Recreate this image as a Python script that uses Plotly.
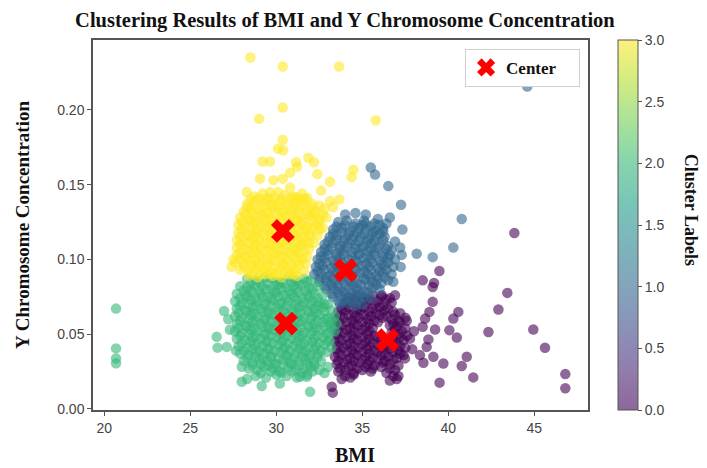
import plotly.graph_objects as go

# ---------------- data ----------------
# cluster 3 (yellow)
c3_bmi = [28.7, 29.2, 29.6, 30.1, 30.5, 31.0, 31.5,
          28.3, 28.8, 29.3, 29.8, 30.2, 30.7, 31.1, 31.6, 32.1,
          28.1, 28.5, 29.0, 29.5, 29.9, 30.4, 30.9, 31.3, 31.8, 32.3, 32.8,
          27.9, 28.4, 28.8, 29.3, 29.7, 30.2, 30.6, 31.1, 31.5, 32.0, 32.5, 32.9,
          27.8, 28.2, 28.7, 29.1, 29.6, 30.0, 30.5, 30.9, 31.4, 31.8, 32.3, 32.7,
          27.8, 28.3, 28.8, 29.2, 29.7, 30.1, 30.6, 31.0, 31.5, 31.9, 32.4,
          27.7, 28.1, 28.6, 29.0, 29.5, 29.9, 30.4, 30.8, 31.3, 31.7, 32.2,
          27.7, 28.2, 28.7, 29.1, 29.6, 30.0, 30.5, 31.0, 31.4, 31.9,
          27.7, 28.1, 28.6, 29.0, 29.5, 30.0, 30.4, 30.9, 31.3, 31.8,
          27.6, 28.1, 28.5, 29.0, 29.4, 29.9, 30.4, 30.8, 31.3, 31.7,
          27.9, 28.4, 28.8, 29.3, 29.8, 30.2, 30.7, 31.1, 31.6,
          28.4, 28.9, 29.4, 29.8, 30.3, 30.8, 31.2,
          28.49, 30.37, 33.65, 30.37, 29.0, 35.78, 30.37, 30.1, 30.4, 29.2, 29.63, 31.15,
          31.2, 31.86, 32.19, 30.8, 32.38, 34.48, 34.38, 29.05, 29.83, 30.37, 33.12, 30.8,
          28.28, 29.63, 31.19, 31.67, 33.12, 33.66, 27.5, 27.4, 32.6, 33.3]
c3_y = [0.142, 0.144, 0.141, 0.145, 0.143, 0.142, 0.144,
        0.137, 0.139, 0.138, 0.136, 0.139, 0.137, 0.138, 0.139, 0.137,
        0.132, 0.134, 0.133, 0.131, 0.134, 0.133, 0.132, 0.134, 0.133, 0.132, 0.134,
        0.128, 0.127, 0.129, 0.128, 0.126, 0.128, 0.129, 0.127, 0.128, 0.129, 0.127, 0.128,
        0.123, 0.122, 0.124, 0.123, 0.121, 0.124, 0.122, 0.123, 0.124, 0.122, 0.123, 0.121,
        0.118, 0.117, 0.119, 0.118, 0.116, 0.119, 0.117, 0.118, 0.119, 0.117, 0.116,
        0.113, 0.112, 0.114, 0.113, 0.111, 0.114, 0.112, 0.113, 0.114, 0.112, 0.111,
        0.108, 0.107, 0.109, 0.108, 0.106, 0.109, 0.107, 0.108, 0.109, 0.107,
        0.103, 0.102, 0.104, 0.103, 0.101, 0.104, 0.102, 0.103, 0.104, 0.102,
        0.098, 0.097, 0.099, 0.098, 0.096, 0.099, 0.097, 0.098, 0.099, 0.097,
        0.093, 0.092, 0.094, 0.093, 0.091, 0.094, 0.092, 0.093, 0.092,
        0.089, 0.088, 0.090, 0.089, 0.088, 0.090, 0.089,
        0.235, 0.229, 0.229, 0.2015, 0.194, 0.193, 0.180, 0.174, 0.173, 0.1655, 0.1655, 0.165,
        0.162, 0.168, 0.165, 0.158, 0.157, 0.160, 0.155, 0.154, 0.153, 0.154, 0.152, 0.148,
        0.145, 0.145, 0.1415, 0.1405, 0.139, 0.140, 0.100, 0.095, 0.146, 0.135]
# dense core of cluster 3
c3_core_bmi = [28.5, 29.0, 29.4, 29.9, 30.3, 30.8, 31.3, 31.8,
               28.3, 28.7, 29.2, 29.7, 30.1, 30.6, 31.0, 31.5, 32.0, 32.5,
               28.2, 28.6, 29.1, 29.5, 30.0, 30.4, 30.9, 31.3, 31.8, 32.2, 32.7,
               28.0, 28.5, 28.9, 29.4, 29.8, 30.3, 30.7, 31.2, 31.6, 32.1, 32.5,
               28.0, 28.5, 28.9, 29.4, 29.8, 30.3, 30.8, 31.2, 31.7, 32.1, 32.5,
               27.9, 28.4, 28.8, 29.3, 29.7, 30.2, 30.6, 31.1, 31.5, 32.0,
               27.9, 28.4, 28.8, 29.3, 29.7, 30.2, 30.6, 31.1, 31.5, 31.9,
               27.9, 28.4, 28.8, 29.3, 29.8, 30.2, 30.7, 31.1, 31.6,
               27.9, 28.3, 28.8, 29.2, 29.7, 30.2, 30.6, 31.1, 31.5,
               28.1, 28.6, 29.0, 29.5, 29.9, 30.4, 30.9, 31.3,
               28.6, 29.1, 29.6, 30.1, 30.5, 31.0]
c3_core_y = [0.140, 0.141, 0.140, 0.141, 0.140, 0.141, 0.140, 0.141,
             0.135, 0.136, 0.135, 0.136, 0.135, 0.136, 0.135, 0.136, 0.135, 0.136,
             0.130, 0.131, 0.130, 0.131, 0.130, 0.131, 0.130, 0.131, 0.130, 0.131, 0.130,
             0.125, 0.126, 0.125, 0.126, 0.125, 0.126, 0.125, 0.126, 0.125, 0.126, 0.125,
             0.120, 0.121, 0.120, 0.121, 0.120, 0.121, 0.120, 0.121, 0.120, 0.121, 0.120,
             0.115, 0.116, 0.115, 0.116, 0.115, 0.116, 0.115, 0.116, 0.115, 0.116,
             0.110, 0.111, 0.110, 0.111, 0.110, 0.111, 0.110, 0.111, 0.110, 0.111,
             0.105, 0.106, 0.105, 0.106, 0.105, 0.106, 0.105, 0.106, 0.105,
             0.100, 0.101, 0.100, 0.101, 0.100, 0.101, 0.100, 0.101, 0.100,
             0.095, 0.096, 0.095, 0.096, 0.095, 0.096, 0.095, 0.096,
             0.091, 0.090, 0.091, 0.090, 0.091, 0.090]

# cluster 2 (green)
c2_bmi = [28.3, 28.8, 29.3, 29.7, 30.2, 30.7, 31.1, 31.6, 32.0,
          27.9, 28.3, 28.8, 29.2, 29.7, 30.1, 30.6, 31.0, 31.5, 31.9, 32.4,
          27.7, 28.2, 28.6, 29.1, 29.5, 30.0, 30.4, 30.9, 31.3, 31.8, 32.2, 32.7,
          27.6, 28.0, 28.5, 28.9, 29.4, 29.8, 30.3, 30.7, 31.2, 31.6, 32.1, 32.5, 33.0,
          27.7, 28.2, 28.6, 29.1, 29.5, 30.0, 30.4, 30.9, 31.3, 31.8, 32.2, 32.7, 33.2,
          27.6, 28.0, 28.5, 28.9, 29.4, 29.8, 30.3, 30.7, 31.2, 31.6, 32.1, 32.5, 33.0, 33.4,
          27.7, 28.2, 28.6, 29.1, 29.5, 30.0, 30.4, 30.9, 31.3, 31.8, 32.2, 32.7, 33.1, 33.5,
          27.6, 28.0, 28.5, 28.9, 29.4, 29.8, 30.3, 30.7, 31.2, 31.6, 32.1, 32.5, 33.0, 33.4,
          27.7, 28.2, 28.6, 29.1, 29.5, 30.0, 30.4, 30.9, 31.3, 31.8, 32.2, 32.7, 33.1,
          27.8, 28.3, 28.7, 29.2, 29.6, 30.1, 30.5, 31.0, 31.4, 31.9, 32.3, 32.8, 33.2,
          27.9, 28.4, 28.8, 29.3, 29.7, 30.2, 30.6, 31.1, 31.5, 32.0, 32.4, 32.9,
          28.1, 28.6, 29.0, 29.5, 29.9, 30.4, 30.8, 31.3, 31.7, 32.2, 32.6,
          28.4, 28.9, 29.3, 29.8, 30.2, 30.7, 31.1, 31.6, 32.0, 32.5,
          28.8, 29.4, 30.0, 30.6, 31.2, 31.8,
          20.68, 20.68, 20.68, 20.68, 26.96, 26.53, 26.58, 27.12, 27.66, 27.99, 29.15,
          27.99, 31.96, 31.38, 31.77, 27.2, 27.3, 33.0, 32.8, 28.3, 30.2]
c2_y = [0.087, 0.086, 0.088, 0.087, 0.085, 0.088, 0.086, 0.087, 0.086,
        0.082, 0.081, 0.083, 0.082, 0.080, 0.083, 0.081, 0.082, 0.083, 0.081, 0.082,
        0.077, 0.076, 0.078, 0.077, 0.075, 0.078, 0.076, 0.077, 0.078, 0.076, 0.077, 0.076,
        0.072, 0.071, 0.073, 0.072, 0.070, 0.073, 0.071, 0.072, 0.073, 0.071, 0.072, 0.071, 0.070,
        0.067, 0.066, 0.068, 0.067, 0.065, 0.068, 0.066, 0.067, 0.068, 0.066, 0.067, 0.068, 0.066,
        0.062, 0.061, 0.063, 0.062, 0.060, 0.063, 0.061, 0.062, 0.063, 0.061, 0.062, 0.063, 0.061, 0.062,
        0.057, 0.056, 0.058, 0.057, 0.055, 0.058, 0.056, 0.057, 0.058, 0.056, 0.057, 0.058, 0.056, 0.057,
        0.052, 0.051, 0.053, 0.052, 0.050, 0.053, 0.051, 0.052, 0.053, 0.051, 0.052, 0.053, 0.051, 0.052,
        0.047, 0.046, 0.048, 0.047, 0.045, 0.048, 0.046, 0.047, 0.048, 0.046, 0.047, 0.048, 0.046,
        0.042, 0.041, 0.043, 0.042, 0.040, 0.043, 0.041, 0.042, 0.043, 0.041, 0.042, 0.043, 0.041,
        0.037, 0.036, 0.038, 0.037, 0.035, 0.038, 0.036, 0.037, 0.038, 0.036, 0.037, 0.038,
        0.032, 0.031, 0.033, 0.032, 0.030, 0.033, 0.031, 0.032, 0.033, 0.031, 0.032,
        0.027, 0.026, 0.028, 0.027, 0.025, 0.028, 0.026, 0.027, 0.028, 0.026,
        0.022, 0.021, 0.023, 0.022, 0.021, 0.023,
        0.0671, 0.0405, 0.0338, 0.0305, 0.0655, 0.0482, 0.041, 0.0415, 0.039, 0.0182, 0.0153,
        0.0282, 0.0115, 0.0215, 0.0215, 0.060, 0.053, 0.028, 0.024, 0.020, 0.017]
# dense core of cluster 2
c2_core_bmi = [28.5, 29.0, 29.5, 30.0, 30.4, 30.9, 31.3, 31.8,
               28.1, 28.5, 29.0, 29.4, 29.9, 30.3, 30.8, 31.2, 31.7, 32.1,
               27.9, 28.3, 28.8, 29.2, 29.7, 30.1, 30.6, 31.0, 31.5, 31.9, 32.4,
               27.9, 28.4, 28.8, 29.3, 29.7, 30.2, 30.6, 31.1, 31.5, 32.0, 32.4, 32.8,
               27.8, 28.3, 28.7, 29.2, 29.6, 30.1, 30.5, 31.0, 31.4, 31.9, 32.3, 32.8,
               27.9, 28.4, 28.8, 29.3, 29.7, 30.2, 30.6, 31.1, 31.5, 32.0, 32.4, 32.9, 33.2,
               27.8, 28.3, 28.7, 29.2, 29.6, 30.1, 30.5, 31.0, 31.4, 31.9, 32.3, 32.8, 33.2,
               27.9, 28.4, 28.8, 29.3, 29.7, 30.2, 30.6, 31.1, 31.5, 32.0, 32.4, 32.9,
               28.0, 28.5, 28.9, 29.4, 29.8, 30.3, 30.7, 31.2, 31.6, 32.1, 32.5, 33.0,
               28.1, 28.6, 29.0, 29.5, 29.9, 30.4, 30.8, 31.3, 31.7, 32.2, 32.6,
               28.3, 28.8, 29.2, 29.7, 30.1, 30.6, 31.0, 31.5, 31.9, 32.4,
               28.6, 29.1, 29.5, 30.0, 30.4, 30.9, 31.3, 31.8, 32.2,
               29.1, 29.7, 30.3, 30.9, 31.5, 32.1]
c2_core_y = [0.084, 0.085, 0.084, 0.085, 0.084, 0.085, 0.084, 0.085,
             0.079, 0.080, 0.079, 0.080, 0.079, 0.080, 0.079, 0.080, 0.079, 0.080,
             0.074, 0.075, 0.074, 0.075, 0.074, 0.075, 0.074, 0.075, 0.074, 0.075, 0.074,
             0.069, 0.070, 0.069, 0.070, 0.069, 0.070, 0.069, 0.070, 0.069, 0.070, 0.069, 0.070,
             0.064, 0.065, 0.064, 0.065, 0.064, 0.065, 0.064, 0.065, 0.064, 0.065, 0.064, 0.065,
             0.059, 0.060, 0.059, 0.060, 0.059, 0.060, 0.059, 0.060, 0.059, 0.060, 0.059, 0.060, 0.059,
             0.054, 0.055, 0.054, 0.055, 0.054, 0.055, 0.054, 0.055, 0.054, 0.055, 0.054, 0.055, 0.054,
             0.049, 0.050, 0.049, 0.050, 0.049, 0.050, 0.049, 0.050, 0.049, 0.050, 0.049, 0.050,
             0.044, 0.045, 0.044, 0.045, 0.044, 0.045, 0.044, 0.045, 0.044, 0.045, 0.044, 0.045,
             0.039, 0.040, 0.039, 0.040, 0.039, 0.040, 0.039, 0.040, 0.039, 0.040, 0.039,
             0.034, 0.035, 0.034, 0.035, 0.034, 0.035, 0.034, 0.035, 0.034, 0.035,
             0.029, 0.030, 0.029, 0.030, 0.029, 0.030, 0.029, 0.030, 0.029,
             0.024, 0.025, 0.024, 0.025, 0.024, 0.025]

# cluster 1 (blue)
c1_bmi = [33.6, 34.1, 34.6, 35.1,
          33.3, 33.8, 34.3, 34.8, 35.2, 35.7, 36.2,
          33.1, 33.5, 34.0, 34.5, 34.9, 35.4, 35.8, 36.3,
          32.8, 33.3, 33.7, 34.2, 34.6, 35.1, 35.5, 36.0, 36.5,
          32.6, 33.0, 33.5, 33.9, 34.4, 34.8, 35.3, 35.7, 36.2, 36.7,
          32.4, 32.8, 33.3, 33.7, 34.2, 34.6, 35.1, 35.5, 36.0, 36.5, 36.9,
          32.3, 32.7, 33.2, 33.6, 34.1, 34.5, 35.0, 35.4, 35.9, 36.3, 36.8,
          32.2, 32.6, 33.1, 33.5, 34.0, 34.4, 34.9, 35.3, 35.8, 36.2, 36.7,
          32.5, 32.9, 33.4, 33.8, 34.3, 34.7, 35.2, 35.6, 36.1, 36.5,
          32.9, 33.3, 33.8, 34.2, 34.7, 35.1, 35.6, 36.0,
          33.3, 33.7, 34.2, 34.6, 35.1, 35.5,
          33.7, 34.1, 34.6, 35.0,
          35.49, 35.74, 36.51, 37.25, 40.78, 44.59, 35.7, 36.22, 37.33, 35.16, 37.29, 38.16,
          39.09, 40.29, 37.23, 36.8, 36.6, 36.9, 37.2, 34.6, 35.2, 34.0, 35.9, 36.4]
c1_y = [0.125, 0.126, 0.124, 0.126,
        0.120, 0.121, 0.119, 0.121, 0.120, 0.119, 0.121,
        0.115, 0.116, 0.114, 0.116, 0.115, 0.114, 0.116, 0.115,
        0.110, 0.111, 0.109, 0.111, 0.110, 0.109, 0.111, 0.110, 0.109,
        0.105, 0.106, 0.104, 0.106, 0.105, 0.104, 0.106, 0.105, 0.104, 0.106,
        0.100, 0.101, 0.099, 0.101, 0.100, 0.099, 0.101, 0.100, 0.099, 0.101, 0.100,
        0.095, 0.096, 0.094, 0.096, 0.095, 0.094, 0.096, 0.095, 0.094, 0.096, 0.095,
        0.090, 0.091, 0.089, 0.091, 0.090, 0.089, 0.091, 0.090, 0.089, 0.091, 0.090,
        0.085, 0.086, 0.084, 0.086, 0.085, 0.084, 0.086, 0.085, 0.084, 0.086,
        0.080, 0.081, 0.079, 0.081, 0.080, 0.079, 0.081, 0.080,
        0.075, 0.076, 0.074, 0.076, 0.075, 0.074,
        0.070, 0.071, 0.069, 0.070,
        0.1615, 0.1567, 0.149, 0.1365, 0.127, 0.2156, 0.124, 0.119, 0.120, 0.124, 0.103, 0.1038,
        0.1015, 0.108, 0.095, 0.085, 0.128, 0.112, 0.108, 0.131, 0.130, 0.130, 0.127, 0.124]
# dense core of cluster 1
c1_core_bmi = [33.5, 34.0, 34.5, 35.0, 35.5, 36.0,
               33.3, 33.8, 34.2, 34.7, 35.1, 35.6, 36.0,
               33.0, 33.5, 33.9, 34.4, 34.8, 35.3, 35.7, 36.2,
               32.8, 33.2, 33.7, 34.1, 34.6, 35.0, 35.5, 35.9, 36.4,
               32.6, 33.0, 33.5, 33.9, 34.4, 34.8, 35.3, 35.7, 36.2, 36.6,
               32.5, 32.9, 33.4, 33.8, 34.3, 34.7, 35.2, 35.6, 36.1, 36.5,
               32.4, 32.8, 33.3, 33.7, 34.2, 34.6, 35.1, 35.5, 36.0, 36.4,
               32.5, 32.9, 33.3, 33.7, 34.2, 34.6, 35.1, 35.5, 35.9, 36.3,
               32.8, 33.2, 33.6, 34.0, 34.5, 34.9, 35.4, 35.8,
               33.2, 33.6, 34.0, 34.4, 34.9, 35.3,
               33.6, 34.0, 34.4, 34.8]
c1_core_y = [0.122, 0.123, 0.122, 0.123, 0.122, 0.123,
             0.117, 0.118, 0.117, 0.118, 0.117, 0.118, 0.117,
             0.112, 0.113, 0.112, 0.113, 0.112, 0.113, 0.112, 0.113,
             0.107, 0.108, 0.107, 0.108, 0.107, 0.108, 0.107, 0.108, 0.107,
             0.102, 0.103, 0.102, 0.103, 0.102, 0.103, 0.102, 0.103, 0.102, 0.103,
             0.097, 0.098, 0.097, 0.098, 0.097, 0.098, 0.097, 0.098, 0.097, 0.098,
             0.092, 0.093, 0.092, 0.093, 0.092, 0.093, 0.092, 0.093, 0.092, 0.093,
             0.087, 0.088, 0.087, 0.088, 0.087, 0.088, 0.087, 0.088, 0.087, 0.088,
             0.082, 0.083, 0.082, 0.083, 0.082, 0.083, 0.082, 0.083,
             0.077, 0.078, 0.077, 0.078, 0.077, 0.078,
             0.072, 0.073, 0.072, 0.073]

# cluster 0 (purple)
c0_bmi = [34.2, 34.7, 35.1, 35.6, 36.1, 36.6,
          33.9, 34.3, 34.8, 35.2, 35.7, 36.2, 36.7,
          33.6, 34.0, 34.5, 34.9, 35.4, 35.8, 36.3, 36.8, 37.2,
          33.5, 33.9, 34.4, 34.8, 35.3, 35.7, 36.2, 36.7, 37.1, 37.5,
          33.4, 33.8, 34.3, 34.7, 35.2, 35.6, 36.6, 37.0, 37.5,
          33.5, 33.9, 34.4, 34.8, 35.3, 35.7, 36.7, 37.1, 37.6,
          33.4, 33.8, 34.3, 34.7, 35.2, 35.6, 36.1, 36.5, 37.0, 37.4,
          33.5, 33.9, 34.4, 34.8, 35.3, 35.7, 36.2, 36.6, 37.1, 37.5,
          33.4, 33.8, 34.3, 34.7, 35.2, 35.6, 36.1, 36.5, 37.0, 37.4,
          33.5, 33.9, 34.4, 34.8, 35.3, 35.7, 36.2, 36.6, 37.1,
          33.6, 34.0, 34.5, 35.0, 35.5, 36.4, 36.9,
          33.8, 34.3, 36.6, 37.0,
          43.84, 39.48, 38.51, 39.17, 39.09, 43.43, 39.09, 42.91, 40.58, 40.29, 38.9, 38.65,
          38.51, 39.23, 40.06, 40.49, 42.33, 44.94, 45.62, 38.84, 38.74, 38.35, 38.55, 39.13,
          39.71, 41.07, 40.78, 41.45, 39.49, 46.8, 46.8, 33.22, 33.28, 37.58, 37.77, 37.48,
          37.1, 36.9, 36.13, 38.0, 37.9]
c0_y = [0.075, 0.076, 0.074, 0.076, 0.075, 0.074,
        0.070, 0.071, 0.069, 0.071, 0.070, 0.069, 0.071,
        0.065, 0.066, 0.064, 0.066, 0.065, 0.064, 0.066, 0.065, 0.064,
        0.060, 0.061, 0.059, 0.061, 0.060, 0.059, 0.061, 0.060, 0.059, 0.061,
        0.055, 0.056, 0.054, 0.056, 0.055, 0.054, 0.056, 0.055, 0.054,
        0.050, 0.051, 0.049, 0.051, 0.050, 0.049, 0.051, 0.050, 0.049,
        0.045, 0.046, 0.044, 0.046, 0.045, 0.044, 0.046, 0.045, 0.044, 0.046,
        0.040, 0.041, 0.039, 0.041, 0.040, 0.039, 0.041, 0.040, 0.039, 0.041,
        0.035, 0.036, 0.034, 0.036, 0.035, 0.034, 0.036, 0.035, 0.034, 0.036,
        0.030, 0.031, 0.029, 0.031, 0.030, 0.029, 0.031, 0.030, 0.029,
        0.025, 0.026, 0.024, 0.026, 0.025, 0.024, 0.026,
        0.020, 0.021, 0.019, 0.020,
        0.1176, 0.0922, 0.086, 0.0842, 0.0816, 0.0776, 0.0716, 0.0665, 0.0649, 0.0604, 0.0649, 0.0604,
        0.0549, 0.0531, 0.0527, 0.0478, 0.0515, 0.0531, 0.0409, 0.0465, 0.0415, 0.036, 0.0309, 0.0349,
        0.0304, 0.0349, 0.0287, 0.0211, 0.0176, 0.0233, 0.0138, 0.0149, 0.0109, 0.059, 0.047, 0.0338,
        0.022, 0.076, 0.076, 0.052, 0.040]
# dense core of cluster 0
c0_core_bmi = [34.1, 34.5, 35.0, 35.4, 35.9, 36.4,
               33.8, 34.2, 34.7, 35.1, 35.6, 36.0, 36.5,
               33.7, 34.2, 34.6, 35.1, 35.5, 36.0, 36.4, 36.9,
               33.6, 34.1, 34.5, 35.0, 35.4, 35.9, 36.8, 37.2,
               33.6, 34.1, 34.5, 35.0, 35.4, 36.9, 37.3,
               33.6, 34.1, 34.5, 35.0, 35.4, 35.9, 36.8, 37.2,
               33.6, 34.1, 34.5, 35.0, 35.4, 35.9, 36.4, 36.8, 37.2,
               33.6, 34.1, 34.5, 35.0, 35.4, 35.9, 36.3, 36.8, 37.2,
               33.6, 34.1, 34.5, 35.0, 35.4, 35.9, 36.3, 36.8,
               33.7, 34.2, 34.7, 35.2, 35.6, 36.1, 36.6,
               34.0, 34.5, 36.8]
c0_core_y = [0.072, 0.073, 0.072, 0.073, 0.072, 0.073,
             0.067, 0.068, 0.067, 0.068, 0.067, 0.068, 0.067,
             0.062, 0.063, 0.062, 0.063, 0.062, 0.063, 0.062, 0.063,
             0.057, 0.058, 0.057, 0.058, 0.057, 0.058, 0.057, 0.058,
             0.052, 0.053, 0.052, 0.053, 0.052, 0.053, 0.052,
             0.047, 0.048, 0.047, 0.048, 0.047, 0.048, 0.047, 0.048,
             0.042, 0.043, 0.042, 0.043, 0.042, 0.043, 0.042, 0.043, 0.042,
             0.037, 0.038, 0.037, 0.038, 0.037, 0.038, 0.037, 0.038, 0.037,
             0.032, 0.033, 0.032, 0.033, 0.032, 0.033, 0.032, 0.033,
             0.027, 0.028, 0.027, 0.028, 0.027, 0.028, 0.027,
             0.022, 0.023, 0.022]

# cluster centres (labels 0..3)
center_bmi = [36.45, 34.03, 30.56, 30.38]
center_y = [0.046, 0.0927, 0.0571, 0.1190]

x_ticks = [20, 25, 30, 35, 40, 45]
y_ticks = [0.00, 0.05, 0.10, 0.15, 0.20]
cbar_ticks = [0.0, 0.5, 1.0, 1.5, 2.0, 2.5, 3.0]

# ---------------- assemble ----------------
clusters = [
    [(c0_bmi, c0_y), (c0_core_bmi, c0_core_y)],
    [(c1_bmi, c1_y), (c1_core_bmi, c1_core_y)],
    [(c2_bmi, c2_y), (c2_core_bmi, c2_core_y)],
    [(c3_bmi, c3_y), (c3_core_bmi, c3_core_y)],
]
bmi, ycc, labels = [], [], []
for lab, parts in enumerate(clusters):
    for k, (xs, ys) in enumerate(parts):
        if len(xs) != len(ys):
            raise ValueError(f"cluster {lab} part {k}: {len(xs)} x vs {len(ys)} y")
        bmi += xs
        ycc += ys
        labels += [lab] * len(xs)

viridis = [(68, 1, 84), (72, 40, 120), (62, 73, 137), (49, 104, 142), (38, 130, 142),
           (31, 158, 137), (53, 183, 121), (110, 206, 88), (181, 222, 43), (253, 231, 37)]
alpha = 0.6
cscale = [[i / 9, f"rgba({r},{g},{b},{alpha})"] for i, (r, g, b) in enumerate(viridis)]

serif_bold = dict(family="Liberation Serif, Times New Roman, serif", color="#111", weight="bold")
tick_font = dict(family="Liberation Sans, Arial, sans-serif", size=14, color="#444")

fig = go.Figure()
fig.add_trace(go.Scatter(
    x=bmi, y=ycc, mode="markers", showlegend=False, hoverinfo="skip",
    marker=dict(size=10.5, color=labels, colorscale=cscale, cmin=0, cmax=3,
                line=dict(width=0),
                colorbar=dict(x=1.0606, xanchor="left", y=0.5, yanchor="middle",
                              len=1, lenmode="fraction", thickness=20,
                              xpad=0, ypad=0, outlinecolor="#555", outlinewidth=1,
                              ticks="outside", ticklen=4, tickcolor="#555",
                              tickvals=cbar_ticks,
                              ticktext=[f"{v:.1f}" for v in cbar_ticks],
                              tickfont=tick_font)),
))
fig.add_trace(go.Scatter(
    x=center_bmi, y=center_y, mode="markers", name="Center\u00a0\u00a0\u00a0\u00a0",
    marker=dict(symbol="x", size=21, color="#ff0000", line=dict(width=0)),
))

axis_common = dict(showgrid=False, zeroline=False, showline=True, mirror=True,
                   linecolor="#555", linewidth=1.5, ticks="outside", ticklen=4,
                   tickcolor="#555", tickfont=tick_font)
fig.update_xaxes(range=[19.34, 48.12], tickvals=x_ticks, **axis_common)
fig.update_yaxes(range=[-0.0007, 0.2467], tickvals=y_ticks, tickformat=".2f", **axis_common)

# the page body adds an 8px margin, so the figure is 8px smaller than the window
fig.update_layout(
    width=699, height=460,
    margin=dict(l=85, r=119, t=32, b=58),
    paper_bgcolor="white", plot_bgcolor="white",
    title=dict(text="Clustering Results of BMI and Y Chromosome Concentration",
               x=0.482, xanchor="center", xref="container",
               y=0.974, yanchor="middle", yref="container",
               font=dict(size=20.5, **serif_bold)),
    legend=dict(x=0.984, xanchor="right", y=0.976, yanchor="top",
                bgcolor="white", bordercolor="#d0d0d0", borderwidth=1,
                font=dict(size=17, **serif_bold)),
    annotations=[
        dict(text="BMI", x=0.529, y=-0.1216, xref="paper", yref="paper",
             xanchor="center", yanchor="middle", showarrow=False,
             font=dict(size=20, **serif_bold)),
        dict(text="Y Chromosome Concentration", x=-0.1434, y=0.5, xref="paper", yref="paper",
             xanchor="center", yanchor="middle", showarrow=False, textangle=-90,
             font=dict(size=19, **serif_bold)),
        dict(text="Cluster Labels", x=1.207, y=0.54, xref="paper", yref="paper",
             xanchor="center", yanchor="middle", showarrow=False, textangle=90,
             font=dict(size=18, **serif_bold)),
    ],
)

fig.write_html("out.html")
